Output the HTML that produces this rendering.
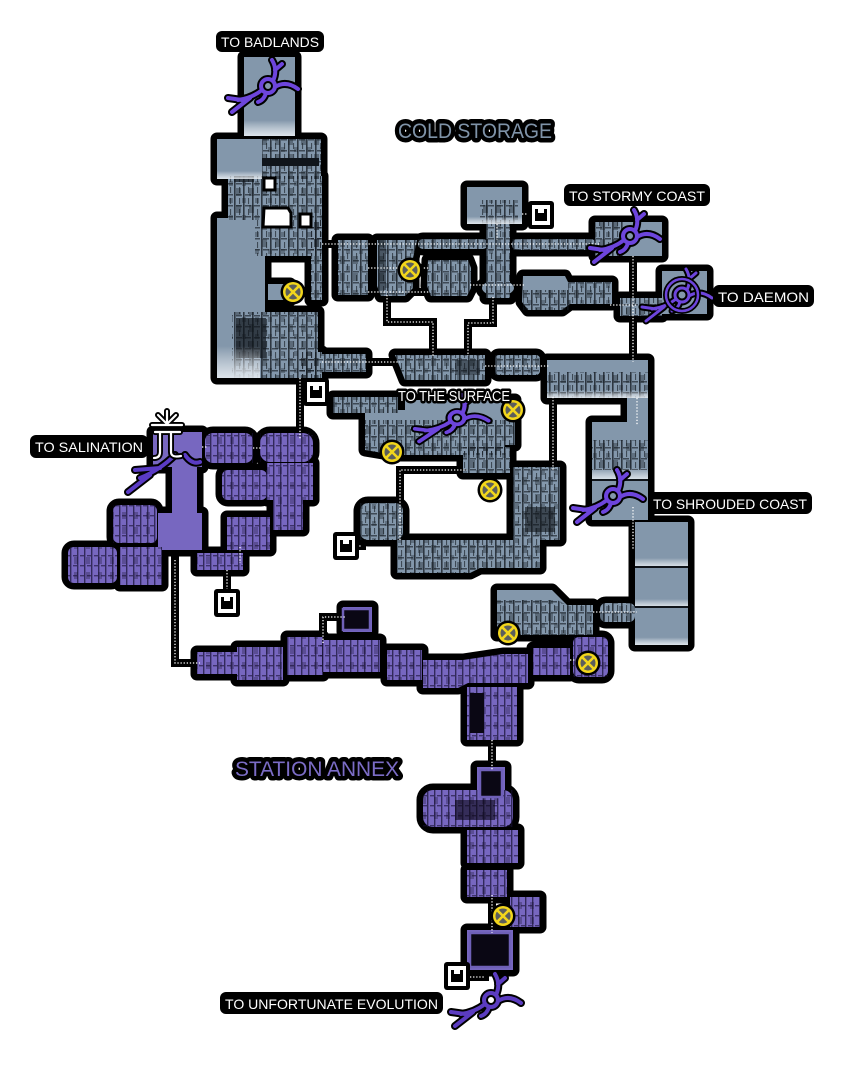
<!DOCTYPE html>
<html><head><meta charset="utf-8"><style>
html,body{margin:0;padding:0;background:#fff}
svg{display:block}
</style></head><body>
<svg width="843" height="1070" viewBox="0 0 843 1070" xmlns="http://www.w3.org/2000/svg" xmlns:xlink="http://www.w3.org/1999/xlink">
<defs>
<pattern id="tx" width="9" height="11" patternUnits="userSpaceOnUse">
<rect x="0" y="0" width="1.6" height="11" fill="#11161d" opacity=".75"/>
<rect x="5" y="0" width="1.1" height="6" fill="#11161d" opacity=".6"/>
<rect x="2" y="7" width="6" height="1.5" fill="#11161d" opacity=".6"/>
</pattern>
<pattern id="tx2" width="13" height="17" patternUnits="userSpaceOnUse">
<rect x="2" y="1" width="5" height="8" fill="#11161d" opacity=".35"/>
<rect x="8" y="11" width="4" height="5" fill="#11161d" opacity=".3"/>
</pattern>
<pattern id="txa" width="7" height="10" patternUnits="userSpaceOnUse">
<rect x="0" y="0" width="1.4" height="10" fill="#160f30" opacity=".7"/>
<rect x="3" y="5" width="4" height="1.4" fill="#160f30" opacity=".6"/>
</pattern>
<pattern id="txa2" width="12" height="15" patternUnits="userSpaceOnUse">
<rect x="2" y="2" width="4" height="7" fill="#160f30" opacity=".3"/>
</pattern>
<linearGradient id="fade" x1="0" y1="0" x2="0" y2="1">
<stop offset="0" stop-color="#fff" stop-opacity="0"/>
<stop offset=".8" stop-color="#fff" stop-opacity="0"/>
<stop offset="1" stop-color="#e6ecf2" stop-opacity=".9"/>
</linearGradient>

<g id="C">
<rect x="244" y="57" width="51" height="79"/>
<rect x="217" y="139" width="104" height="40"/>
<rect x="228" y="176" width="94" height="44"/>
<rect x="217" y="218" width="43" height="160"/>
<rect x="255" y="220" width="66" height="36"/>
<rect x="311" y="220" width="11" height="80"/>
<rect x="255" y="256" width="10" height="60"/>
<rect x="268" y="284" width="22" height="16"/>
<rect x="232" y="312" width="86" height="66"/>
<rect x="338" y="240" width="30" height="55"/>
<path d="M377,240 h40 l-4,18 v30 l-8,8 h-24 l-4,-10z"/>
<path d="M428,260 h40 l3,8 v20 l-4,8 h-36 l-4,-10z"/>
<rect x="486" y="222" width="24" height="76"/>
<ellipse cx="498" cy="288" rx="16" ry="8"/>
<rect x="467" y="187" width="55" height="37"/>
<path d="M523,276 h42 l5,10 v18 l-8,6 h-34 l-6,-8z"/>
<rect x="568" y="282" width="44" height="22"/>
<rect x="620" y="298" width="42" height="18"/>
<rect x="595" y="222" width="67" height="34"/>
<rect x="662" y="271" width="45" height="43"/>
<rect x="418" y="239" width="70" height="10" rx="5"/>
<rect x="512" y="239" width="84" height="11" rx="5"/>
<rect x="300" y="352" width="22" height="26"/>
<rect x="322" y="354" width="44" height="18"/>
<path d="M395,355 h90 v25 h-80z"/>
<rect x="495" y="355" width="45" height="20" rx="4"/>
<rect x="547" y="360" width="101" height="38"/>
<rect x="627" y="396" width="21" height="30"/>
<rect x="592" y="422" width="56" height="98"/>
<rect x="333" y="397" width="65" height="16"/>
<path d="M365,410 h40 v-10 h110 v45 h-10 v10 h-110 l-30,-5z"/>
<rect x="463" y="447" width="47" height="26"/>
<rect x="513" y="467" width="47" height="73"/>
<rect x="360" y="503" width="43" height="37" rx="8"/>
<path d="M397,540 h143 v28 h-60 l-10,5 h-73z"/>
<rect x="635" y="522" width="53" height="123"/>
<path d="M497,590 h55 l15,15 h26 v30 h-96z"/>
<rect x="600" y="603" width="35" height="19" rx="6"/>
</g>

<g id="A">
<path d="M153,432 h49 v35 h-5 v46 h5 v37 h-44 v-37 h14 v-46 h-19z"/>
<rect x="113" y="505" width="44" height="38" rx="6"/>
<rect x="68" y="547" width="49" height="36" rx="6"/>
<rect x="120" y="547" width="42" height="38"/>
<rect x="205" y="433" width="48" height="30" rx="8"/>
<rect x="260" y="433" width="53" height="29" rx="10"/>
<rect x="222" y="470" width="45" height="30" rx="6"/>
<rect x="267" y="463" width="46" height="37"/>
<rect x="273" y="500" width="30" height="30"/>
<rect x="227" y="517" width="43" height="33"/>
<rect x="197" y="553" width="46" height="17"/>
<rect x="197" y="652" width="40" height="22"/>
<rect x="237" y="647" width="46" height="33"/>
<rect x="287" y="637" width="36" height="38"/>
<rect x="320" y="640" width="60" height="32"/>
<rect x="343" y="607" width="29" height="25"/>
<rect x="387" y="650" width="35" height="30"/>
<path d="M423,660 h40 l40,-6 h25 v29 h-60 l-10,5 h-35z"/>
<rect x="467" y="687" width="50" height="53"/>
<rect x="477" y="767" width="28" height="33"/>
<rect x="423" y="790" width="90" height="37" rx="10"/>
<rect x="467" y="830" width="51" height="33"/>
<rect x="467" y="870" width="40" height="27"/>
<rect x="510" y="897" width="30" height="30"/>
<rect x="467" y="930" width="46" height="40"/>
<rect x="533" y="648" width="37" height="27"/>
<rect x="573" y="637" width="35" height="40" rx="6"/>
</g>

<g id="TC">
<rect x="262" y="139" width="59" height="40"/>
<rect x="228" y="176" width="94" height="44"/>
<rect x="255" y="220" width="66" height="36"/>
<rect x="311" y="220" width="11" height="80"/>
<rect x="232" y="312" width="86" height="66"/>
<rect x="338" y="240" width="30" height="55"/>
<path d="M377,240 h40 l-4,18 v30 l-8,8 h-24 l-4,-10z"/>
<path d="M428,260 h40 l3,8 v20 l-4,8 h-36 l-4,-10z"/>
<rect x="486" y="222" width="24" height="76"/>
<rect x="480" y="200" width="38" height="24"/>
<rect x="568" y="282" width="44" height="22"/>
<rect x="620" y="298" width="42" height="18"/>
<rect x="418" y="239" width="70" height="10"/>
<rect x="512" y="239" width="84" height="11"/>
<rect x="300" y="352" width="22" height="26"/>
<rect x="322" y="354" width="44" height="18"/>
<path d="M395,355 h90 v25 h-80z"/>
<rect x="495" y="355" width="45" height="20"/>
<rect x="547" y="372" width="101" height="26"/>
<rect x="333" y="397" width="65" height="16"/>
<path d="M365,420 h150 v25 h-10 v10 h-110 l-30,-5z"/>
<rect x="463" y="447" width="47" height="26"/>
<rect x="513" y="467" width="47" height="73"/>
<rect x="360" y="503" width="43" height="37"/>
<path d="M397,540 h143 v28 h-60 l-10,5 h-73z"/>
<path d="M497,600 h60 l10,5 h26 v30 h-96z"/>
<rect x="600" y="603" width="35" height="19"/>
<rect x="592" y="440" width="56" height="30"/>
<rect x="595" y="222" width="30" height="34"/>
<rect x="523" y="290" width="47" height="20"/>
</g>

<g id="TA">
<rect x="205" y="433" width="48" height="30"/>
<rect x="260" y="433" width="53" height="29"/>
<rect x="222" y="470" width="45" height="30"/>
<rect x="267" y="463" width="46" height="37"/>
<rect x="227" y="517" width="43" height="33"/>
<rect x="113" y="505" width="44" height="38"/>
<rect x="68" y="547" width="49" height="36"/>
<rect x="120" y="547" width="42" height="38"/>
<rect x="197" y="553" width="46" height="17"/>
<rect x="197" y="652" width="40" height="22"/>
<rect x="237" y="647" width="46" height="33"/>
<rect x="287" y="637" width="36" height="38"/>
<rect x="320" y="640" width="60" height="32"/>
<rect x="387" y="650" width="35" height="30"/>
<path d="M423,660 h40 l40,-6 h25 v29 h-60 l-10,5 h-35z"/>
<rect x="467" y="687" width="50" height="53"/>
<rect x="423" y="790" width="90" height="37"/>
<rect x="467" y="830" width="51" height="33"/>
<rect x="467" y="870" width="40" height="27"/>
<rect x="510" y="897" width="30" height="30"/>
<rect x="533" y="648" width="37" height="27"/>
<rect x="573" y="637" width="35" height="40"/>
<rect x="273" y="500" width="30" height="30"/>
</g>

<g id="L" fill="none">
<path d="M300,378 V440"/>
<path d="M387,295 V322 H433 V356"/>
<path d="M493,297 V323 H468 V356"/>
<path d="M633,256 V362"/>
<path d="M553,397 V470"/>
<path d="M400,540 V470 H467"/>
<path d="M175,560 V663 H200"/>
<path d="M323,643 V617 H345"/>
<path d="M492,740 V770"/>
<path d="M492,895 V933"/>
<path d="M322,244 H600"/>
<path d="M227,570 V592"/>
<path d="M593,612 H637"/>
<path d="M610,305 H637"/>
<path d="M522,214 H532"/>
<path d="M350,546 H362"/>
<path d="M202,447 H207"/>
<path d="M253,448 H262"/>
<path d="M322,362 H400"/>
<path d="M485,366 H550"/>
<path d="M368,268 H430"/>
<path d="M368,292 H430"/>
<path d="M470,285 H525"/>
<path d="M497,224 V240"/>
<path d="M637,398 V425"/>
<path d="M570,660 H575"/>
<path d="M633,507 V550"/>
<path d="M240,547 V563"/>
<path d="M470,977 H485"/>
</g>

<g id="P" fill="none" stroke-linecap="round" stroke-linejoin="round">
<circle cx="0" cy="0" r="7"/>
<path d="M-6,4 Q-16,12 -30,14 M-18,12 L-36,26 M-26,14 L-40,12 M5,-5 Q10,-16 4,-26 M7,-16 L14,-22 M7,1 Q18,-6 30,3 M-2,7 Q-4,14 -10,16"/>
</g>
</defs>

<!-- connector outlines -->
<use href="#L" stroke="#000" stroke-width="8" stroke-linecap="square"/>
<!-- room outlines -->
<use href="#C" fill="#000" stroke="#000" stroke-width="13" stroke-linejoin="round"/>
<use href="#A" fill="#000" stroke="#000" stroke-width="13" stroke-linejoin="round"/>
<!-- fills -->
<use href="#C" fill="#8397ab"/>
<use href="#A" fill="#7767c0"/>

<!-- texture overlays cold -->
<use href="#TC" fill="url(#tx)"/>
<use href="#TC" fill="url(#tx2)"/>
<!-- dark areas -->
<g fill="#10151b">
<rect x="262" y="158" width="57" height="8"/>
<rect x="236" y="318" width="30" height="40" opacity=".7"/>
<rect x="525" y="507" width="30" height="25" opacity=".6"/>
<rect x="234" y="176" width="20" height="6" opacity=".7"/>
<rect x="378" y="240" width="8" height="50" opacity=".5"/>
<rect x="455" y="360" width="25" height="15" opacity=".5"/>
</g>
<!-- white holes in cave -->
<g fill="#fff" stroke="#000" stroke-width="3">
<path d="M264,208 h24 l3,5 v14 h-28z"/>
<rect x="300" y="214" width="11" height="13"/>
<rect x="264" y="178" width="11" height="12"/>
</g>
<!-- light room fades -->
<g fill="url(#fade)">
<rect x="244" y="57" width="51" height="79"/>
<rect x="217" y="139" width="45" height="40"/>
<rect x="217" y="218" width="43" height="160"/>
<rect x="467" y="187" width="55" height="37"/>
<rect x="635" y="522" width="53" height="45"/>
<rect x="635" y="567" width="53" height="40"/>
<rect x="635" y="607" width="53" height="38"/>
<rect x="592" y="422" width="56" height="58"/>
<rect x="547" y="360" width="101" height="38"/>
</g>
<g stroke="#10151b" stroke-width="2">
<line x1="635" y1="567" x2="688" y2="567"/>
<line x1="635" y1="607" x2="688" y2="607"/>
<line x1="592" y1="480" x2="648" y2="480"/>
</g>

<!-- texture overlays annex -->
<use href="#TA" fill="url(#txa)"/>
<use href="#TA" fill="url(#txa2)"/>
<!-- hollow annex rooms -->
<g fill="#0a0714" stroke="#6f60b8" stroke-width="2.5">
<rect x="480" y="770" width="22" height="27"/>
<rect x="470" y="933" width="40" height="34"/>
<rect x="343" y="609" width="27" height="21"/>
</g>
<g fill="#0a0714">
<rect x="470" y="693" width="14" height="40"/>
<rect x="455" y="800" width="40" height="20" opacity=".6"/>
</g>

<!-- dotted connectors -->
<use href="#L" stroke="#fff" stroke-width="1.3" stroke-dasharray="1.3 1.8"/>

<!-- portals -->
<g transform="translate(268,86)">
<use href="#P" stroke="#000" stroke-width="8"/>
<use href="#P" stroke="#6d45dc" stroke-width="4"/>
</g>
<g transform="translate(630,236)">
<use href="#P" stroke="#000" stroke-width="8"/>
<use href="#P" stroke="#6d45dc" stroke-width="4"/>
</g>
<g transform="translate(457,418) scale(1.05,0.9)">
<use href="#P" stroke="#000" stroke-width="8"/>
<use href="#P" stroke="#6d45dc" stroke-width="4"/>
</g>
<g transform="translate(613,496)">
<use href="#P" stroke="#000" stroke-width="8"/>
<use href="#P" stroke="#6d45dc" stroke-width="4"/>
</g>
<g transform="translate(491,1000)">
<use href="#P" stroke="#000" stroke-width="8"/>
<use href="#P" stroke="#5b3cc0" stroke-width="4"/>
</g>
<g transform="translate(682,295)">
<use href="#P" stroke="#000" stroke-width="7"/>
<use href="#P" stroke="#6d45dc" stroke-width="3"/>
<circle r="16" fill="none" stroke="#000" stroke-width="6"/>
<circle r="16" fill="none" stroke="#6d45dc" stroke-width="2.5"/>
</g>
<!-- salination tendrils + emblem -->
<g fill="none" stroke-linecap="round">
<path d="M175,455 Q160,470 140,478 M150,475 L128,492 M160,468 L135,470 M185,455 Q192,465 200,462" stroke="#000" stroke-width="8"/>
<path d="M175,455 Q160,470 140,478 M150,475 L128,492 M160,468 L135,470 M185,455 Q192,465 200,462" stroke="#5a3bc4" stroke-width="4"/>
</g>
<g fill="none" stroke-linecap="round">
<path d="M167,411 L167,424 M158,415 L167,424 L176,415 M152,425 H182 M155,432 H180 M160,432 V452 Q160,458 154,458 M171,432 V452 Q171,458 181,456" stroke="#000" stroke-width="6"/>
<path d="M167,411 L167,424 M158,415 L167,424 L176,415 M152,425 H182 M155,432 H180 M160,432 V452 Q160,458 154,458 M171,432 V452 Q171,458 181,456" stroke="#fff" stroke-width="2.2"/>
</g>

<!-- X markers -->
<g>
<g transform="translate(293,292)"><circle r="12.5" fill="#000"/><circle r="10" fill="#f2d61c"/><circle r="7.5" fill="#5b5e5c"/><path d="M-6.5,-6.5 L6.5,6.5 M6.5,-6.5 L-6.5,6.5" stroke="#f2d61c" stroke-width="2.6"/></g>
<g transform="translate(410,270)"><circle r="12.5" fill="#000"/><circle r="10" fill="#f2d61c"/><circle r="7.5" fill="#5b5e5c"/><path d="M-6.5,-6.5 L6.5,6.5 M6.5,-6.5 L-6.5,6.5" stroke="#f2d61c" stroke-width="2.6"/></g>
<g transform="translate(513,410)"><circle r="12.5" fill="#000"/><circle r="10" fill="#f2d61c"/><circle r="7.5" fill="#5b5e5c"/><path d="M-6.5,-6.5 L6.5,6.5 M6.5,-6.5 L-6.5,6.5" stroke="#f2d61c" stroke-width="2.6"/></g>
<g transform="translate(392,452)"><circle r="12.5" fill="#000"/><circle r="10" fill="#f2d61c"/><circle r="7.5" fill="#5b5e5c"/><path d="M-6.5,-6.5 L6.5,6.5 M6.5,-6.5 L-6.5,6.5" stroke="#f2d61c" stroke-width="2.6"/></g>
<g transform="translate(490,490)"><circle r="12.5" fill="#000"/><circle r="10" fill="#f2d61c"/><circle r="7.5" fill="#5b5e5c"/><path d="M-6.5,-6.5 L6.5,6.5 M6.5,-6.5 L-6.5,6.5" stroke="#f2d61c" stroke-width="2.6"/></g>
<g transform="translate(508,633)"><circle r="12.5" fill="#000"/><circle r="10" fill="#f2d61c"/><circle r="7.5" fill="#5b5e5c"/><path d="M-6.5,-6.5 L6.5,6.5 M6.5,-6.5 L-6.5,6.5" stroke="#f2d61c" stroke-width="2.6"/></g>
<g transform="translate(588,663)"><circle r="12.5" fill="#000"/><circle r="10" fill="#f2d61c"/><circle r="7.5" fill="#5b5e5c"/><path d="M-6.5,-6.5 L6.5,6.5 M6.5,-6.5 L-6.5,6.5" stroke="#f2d61c" stroke-width="2.6"/></g>
<g transform="translate(503,916)"><circle r="12.5" fill="#000"/><circle r="10" fill="#f2d61c"/><circle r="7.5" fill="#5b5e5c"/><path d="M-6.5,-6.5 L6.5,6.5 M6.5,-6.5 L-6.5,6.5" stroke="#f2d61c" stroke-width="2.6"/></g>
</g>

<!-- save icons -->
<g>
<g transform="translate(541,215)"><rect x="-13" y="-14" width="26" height="28" rx="3" fill="#000"/><rect x="-9" y="-10" width="18" height="20" fill="#fff"/><path d="M-6,-6 h3 v4 h6 v-4 h3 v12 h-12z" fill="#000"/></g>
<g transform="translate(316,392)"><rect x="-13" y="-14" width="26" height="28" rx="3" fill="#000"/><rect x="-9" y="-10" width="18" height="20" fill="#fff"/><path d="M-6,-6 h3 v4 h6 v-4 h3 v12 h-12z" fill="#000"/></g>
<g transform="translate(346,546)"><rect x="-13" y="-14" width="26" height="28" rx="3" fill="#000"/><rect x="-9" y="-10" width="18" height="20" fill="#fff"/><path d="M-6,-6 h3 v4 h6 v-4 h3 v12 h-12z" fill="#000"/></g>
<g transform="translate(227,603)"><rect x="-13" y="-14" width="26" height="28" rx="3" fill="#000"/><rect x="-9" y="-10" width="18" height="20" fill="#fff"/><path d="M-6,-6 h3 v4 h6 v-4 h3 v12 h-12z" fill="#000"/></g>
<g transform="translate(457,976)"><rect x="-13" y="-14" width="26" height="28" rx="3" fill="#000"/><rect x="-9" y="-10" width="18" height="20" fill="#fff"/><path d="M-6,-6 h3 v4 h6 v-4 h3 v12 h-12z" fill="#000"/></g>
</g>

<!-- labels -->
<g font-family="Liberation Sans, DejaVu Sans, sans-serif" font-size="14" fill="#fff">
<rect x="216" y="31" width="108" height="21" rx="6" fill="#000"/>
<text x="221" y="47" textLength="98" lengthAdjust="spacingAndGlyphs">TO BADLANDS</text>
<rect x="564" y="184" width="146" height="22" rx="6" fill="#000"/>
<text x="569" y="201" textLength="136" lengthAdjust="spacingAndGlyphs">TO STORMY COAST</text>
<rect x="713" y="285" width="101" height="22" rx="6" fill="#000"/>
<text x="718" y="302" textLength="91" lengthAdjust="spacingAndGlyphs">TO DAEMON</text>
<text x="398" y="401" font-size="15" textLength="112" lengthAdjust="spacingAndGlyphs" stroke="#000" stroke-width="5" paint-order="stroke" stroke-linejoin="round">TO THE SURFACE</text>
<rect x="30" y="435" width="118" height="23" rx="6" fill="#000"/>
<text x="35" y="452" textLength="108" lengthAdjust="spacingAndGlyphs">TO SALINATION</text>
<rect x="648" y="492" width="164" height="22" rx="6" fill="#000"/>
<text x="653" y="509" textLength="154" lengthAdjust="spacingAndGlyphs">TO SHROUDED COAST</text>
<rect x="220" y="992" width="223" height="22" rx="6" fill="#000"/>
<text x="225" y="1009" textLength="213" lengthAdjust="spacingAndGlyphs">TO UNFORTUNATE EVOLUTION</text>
</g>
<g font-family="Liberation Sans, DejaVu Sans, sans-serif" font-size="21" stroke="#000" stroke-width="9" stroke-linejoin="round" paint-order="stroke">
<text x="398" y="138" textLength="154" lengthAdjust="spacingAndGlyphs" fill="#7f93a8">COLD STORAGE</text>
<text x="235" y="776" textLength="164" lengthAdjust="spacingAndGlyphs" fill="#7b6cc6">STATION ANNEX</text>
</g>
</svg>
</body></html>
